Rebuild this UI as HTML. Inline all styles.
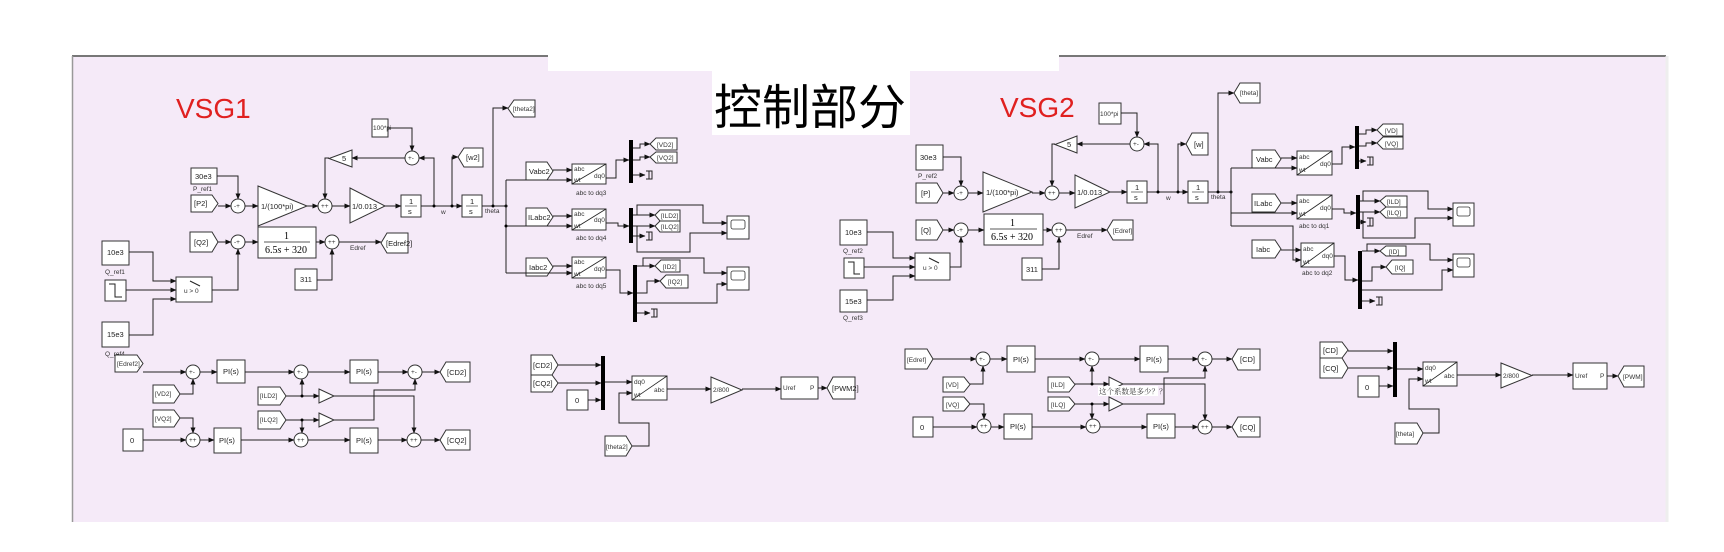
<!DOCTYPE html>
<html><head><meta charset="utf-8">
<style>
html,body{margin:0;padding:0;background:#fff;}
svg{display:block;}
text{font-family:"Liberation Sans","Noto Sans CJK SC",sans-serif;}
.b{fill:#fff;stroke:#333;stroke-width:1;}
.l{fill:none;stroke:#222;stroke-width:1;}
.t{font-size:7.5px;fill:#222;}
.s{font-size:6.5px;fill:#333;}
</style></head><body>
<svg width="1724" height="552" viewBox="0 0 1724 552" xmlns="http://www.w3.org/2000/svg">
<defs>
<marker id="a" markerWidth="6" markerHeight="6" refX="5.5" refY="3" orient="auto" markerUnits="userSpaceOnUse"><path d="M0,0.5L6,3L0,5.5z" fill="#111"/></marker>
</defs>
<rect x="0" y="0" width="1724" height="552" fill="#fff"/>
<rect x="72" y="56" width="1594" height="466" fill="#f5eaf8"/>
<line x1="72" y1="56" x2="1666" y2="56" stroke="#777" stroke-width="2"/>
<line x1="72.5" y1="56" x2="72.5" y2="522" stroke="#999" stroke-width="1.5"/>
<line x1="1667" y1="56" x2="1667" y2="522" stroke="#eee" stroke-width="3"/>
<rect x="548" y="0" width="511" height="71" fill="#fff"/>
<rect x="712" y="71" width="198" height="64" fill="#fff"/>
<text x="714" y="124" font-size="48" style="font-family:'Noto Sans CJK SC',sans-serif" fill="#000">控制部分</text>
<text x="176" y="118" font-size="28" fill="#e02020">VSG1</text>
<text x="1000" y="117" font-size="28" fill="#e02020">VSG2</text>

<!-- ============ VSG1 upper ============ -->
<g>
<rect class="b" x="191" y="168" width="26" height="16"/><text class="t" x="195" y="179">30e3</text>
<text class="s" x="193" y="191">P_ref1</text>
<polygon class="b" points="191,195 212,195 218,203.5 212,212 191,212"/><text class="t" x="194" y="206">[P2]</text>
<circle class="b" cx="238" cy="206" r="7"/><text class="s" x="234" y="208">-+</text>
<polygon class="b" points="258,186 307,206 258,226"/><text class="t" x="261" y="209">1/(100*pi)</text>
<circle class="b" cx="325" cy="206" r="7"/><text class="s" x="321" y="208">++</text>
<polygon class="b" points="350,188 385,206 350,223"/><text class="t" x="352" y="209">1/0.013</text>
<rect class="b" x="401" y="195" width="20" height="22"/><text class="t" x="409" y="204">1</text><line x1="405" y1="206" x2="417" y2="206" stroke="#222" stroke-width=".6"/><text class="t" x="408" y="214">s</text>
<rect class="b" x="462" y="195" width="20" height="22"/><text class="t" x="470" y="204">1</text><line x1="466" y1="206" x2="478" y2="206" stroke="#222" stroke-width=".6"/><text class="t" x="469" y="214">s</text>
<text class="s" x="441" y="214">w</text><text class="s" x="485" y="213">theta</text>
<rect class="b" x="372" y="119" width="16" height="18"/><text class="s" x="373" y="130">100*pi</text>
<circle class="b" cx="412" cy="158" r="7"/><text class="s" x="408" y="160">+-</text>
<polygon class="b" points="352,150 329,158.5 352,167"/><text class="t" x="342" y="161">5</text>
<polygon class="b" points="458,157 464,148 483,148 483,167 464,167"/><text class="t" x="466" y="160">[w2]</text>
<polygon class="b" points="508,108.5 514,100 535,100 535,117 514,117"/><text class="s" x="513" y="111">[theta2]</text>
<polyline class="l" marker-end="url(#a)" points="217,176 238,176 238,199"/>
<polyline class="l" marker-end="url(#a)" points="218,206 231,206"/>
<polyline class="l" marker-end="url(#a)" points="245,206 258,206"/>
<polyline class="l" marker-end="url(#a)" points="307,206 318,206"/>
<polyline class="l" marker-end="url(#a)" points="332,206 350,206"/>
<polyline class="l" marker-end="url(#a)" points="385,206 401,206"/>
<polyline class="l" marker-end="url(#a)" points="421,206 462,206"/>
<polyline class="l" marker-end="url(#a)" points="434,206 434,158 419,158"/>
<polyline class="l" marker-end="url(#a)" points="388,128 412,128 412,151"/>
<polyline class="l" marker-end="url(#a)" points="405,158 352,158"/>
<polyline class="l" marker-end="url(#a)" points="329,158 325,158 325,199"/>
<polyline class="l" marker-end="url(#a)" points="452,206 452,157 458,157"/>
<polyline class="l" points="482,206 506,206"/>
<polyline class="l" marker-end="url(#a)" points="493,206 493,108 508,108"/>
<circle cx="434" cy="206" r="1.5"/><circle cx="452" cy="206" r="1.5"/><circle cx="493" cy="206" r="1.5"/><circle cx="506" cy="206" r="1.5"/>

<polygon class="b" points="190,232 212,232 218,242 212,252 190,252"/><text class="t" x="194" y="245">[Q2]</text>
<circle class="b" cx="238" cy="242" r="7"/><text class="s" x="234" y="244">-+</text>
<rect class="b" x="258" y="227" width="58" height="31"/>
<text x="284" y="239" font-size="10" style="font-family:'Liberation Serif',serif">1</text>
<line x1="264" y1="242" x2="310" y2="242" stroke="#222" stroke-width=".8"/>
<text x="265" y="253" font-size="10" style="font-family:'Liberation Serif',serif">6.5<tspan font-style="italic">s</tspan> + 320</text>
<circle class="b" cx="332" cy="242" r="7"/><text class="s" x="328" y="244">++</text>
<text class="s" x="350" y="250">Edref</text>
<polygon class="b" points="381,243 387,233 408,233 408,253 387,253"/><text class="t" x="386" y="246">[Edref2]</text>
<rect class="b" x="295" y="269" width="22" height="21"/><text class="t" x="300" y="282">311</text>
<rect class="b" x="102" y="241" width="27" height="24"/><text class="t" x="107" y="255">10e3</text>
<text class="s" x="105" y="274">Q_ref1</text>
<rect class="b" x="105" y="280" width="21" height="21"/><polyline class="l" points="109,284 115,284 115,297 122,297"/>
<rect class="b" x="176" y="277" width="36" height="25"/><text class="s" x="184" y="293">u &gt; 0</text>
<polyline class="l" points="190,281 200,286"/>
<rect class="b" x="102" y="322" width="27" height="25"/><text class="t" x="107" y="337">15e3</text>
<text class="s" x="105" y="356">Q_ref4</text>
<polyline class="l" marker-end="url(#a)" points="218,242 231,242"/>
<polyline class="l" marker-end="url(#a)" points="245,242 258,242"/>
<polyline class="l" marker-end="url(#a)" points="316,242 325,242"/>
<polyline class="l" marker-end="url(#a)" points="339,242 381,242"/>
<polyline class="l" marker-end="url(#a)" points="317,280 332,280 332,249"/>
<polyline class="l" marker-end="url(#a)" points="212,290 238,290 238,249"/>
<polyline class="l" marker-end="url(#a)" points="129,252 153,252 153,281 176,281"/>
<polyline class="l" marker-end="url(#a)" points="126,290 176,290"/>
<polyline class="l" marker-end="url(#a)" points="129,335 153,335 153,299 176,299"/>

<!-- transforms VSG1 -->
<polygon class="b" points="526,162 547,162 553,171 547,180 526,180"/><text class="t" x="529" y="174">Vabc2</text>
<polygon class="b" points="526,208 547,208 553,217 547,226 526,226"/><text class="t" x="528" y="220">ILabc2</text>
<polygon class="b" points="526,258 547,258 553,267 547,276 526,276"/><text class="t" x="529" y="270">Iabc2</text>
<g>
<rect class="b" x="572" y="164" width="34" height="20"/><line x1="572" y1="184" x2="606" y2="164" stroke="#222" stroke-width=".8"/>
<text class="s" x="574" y="171">abc</text><text class="s" x="574" y="182">wt</text><text class="s" x="594" y="178">dq0</text><text class="s" x="576" y="195">abc to dq3</text>
<rect class="b" x="572" y="209" width="34" height="21"/><line x1="572" y1="230" x2="606" y2="209" stroke="#222" stroke-width=".8"/>
<text class="s" x="574" y="216">abc</text><text class="s" x="574" y="228">wt</text><text class="s" x="594" y="222">dq0</text><text class="s" x="576" y="240">abc to dq4</text>
<rect class="b" x="572" y="257" width="34" height="21"/><line x1="572" y1="278" x2="606" y2="257" stroke="#222" stroke-width=".8"/>
<text class="s" x="574" y="264">abc</text><text class="s" x="574" y="276">wt</text><text class="s" x="594" y="271">dq0</text><text class="s" x="576" y="288">abc to dq5</text>
</g>
<polyline class="l" marker-end="url(#a)" points="553,170 572,170"/>
<polyline class="l" marker-end="url(#a)" points="553,216 572,216"/>
<polyline class="l" marker-end="url(#a)" points="553,266 572,266"/>
<polyline class="l" points="506,180 506,273"/>
<polyline class="l" marker-end="url(#a)" points="506,180 572,180"/>
<polyline class="l" marker-end="url(#a)" points="506,226 572,226"/>
<polyline class="l" marker-end="url(#a)" points="506,273 572,273"/>
<circle cx="506" cy="226" r="1.5"/>
<rect x="629" y="140" width="4" height="43" fill="#000"/>
<rect x="629" y="208" width="4" height="35" fill="#000"/>
<rect x="633" y="265" width="4" height="57" fill="#000"/>
<polyline class="l" marker-end="url(#a)" points="606,178 616,178 616,160 629,160"/>
<polyline class="l" marker-end="url(#a)" points="606,223 618,223 618,226 629,226"/>
<polyline class="l" marker-end="url(#a)" points="606,270 620,270 620,293 633,293"/>
<polygon class="b" points="650,144 656,138 677,138 677,150 656,150"/><text class="s" x="657" y="147">[VD2]</text>
<polygon class="b" points="650,157 656,152 677,152 677,163 656,163"/><text class="s" x="657" y="160">[VQ2]</text>
<polyline class="l" marker-end="url(#a)" points="633,148 640,148 640,144 650,144"/>
<polyline class="l" marker-end="url(#a)" points="633,160 640,160 640,157 650,157"/>
<polyline class="l" marker-end="url(#a)" points="633,175 645,175"/><path class="l" d="M646,171h6v8h-6M649,171v8"/>
<polygon class="b" points="655,215 660,210 680,210 680,221 660,221"/><text class="s" x="661" y="218">[ILD2]</text>
<polygon class="b" points="655,226 660,221 680,221 680,232 660,232"/><text class="s" x="661" y="229">[ILQ2]</text>
<polyline class="l" marker-end="url(#a)" points="633,215 655,215"/>
<polyline class="l" marker-end="url(#a)" points="633,226 655,226"/>
<polyline class="l" marker-end="url(#a)" points="633,236 645,236"/><path class="l" d="M646,232h6v8h-6M649,232v8"/>
<polyline class="l" marker-end="url(#a)" points="637,215 637,205 703,205 703,223 727,223"/>
<polyline class="l" marker-end="url(#a)" points="637,226 637,252 690,252 690,233 727,233"/>
<rect class="b" x="727" y="216" width="22" height="23"/><rect x="731" y="220" width="14" height="9" rx="2" fill="#fff" stroke="#333" stroke-width=".8"/>
<polygon class="b" points="655,266 661,260 680,260 680,272 661,272"/><text class="s" x="663" y="269">[ID2]</text>
<polygon class="b" points="660,281 666,275 688,275 688,288 666,288"/><text class="s" x="668" y="284">[IQ2]</text>
<polyline class="l" marker-end="url(#a)" points="637,266 655,266"/>
<polyline class="l" marker-end="url(#a)" points="643,266 643,258 704,258 704,273 727,273"/>
<polyline class="l" marker-end="url(#a)" points="637,293 647,293 647,281 660,281"/>
<polyline class="l" marker-end="url(#a)" points="637,303 717,303 717,284 727,284"/>
<polyline class="l" marker-end="url(#a)" points="637,313 650,313"/><path class="l" d="M651,309h6v8h-6M654,309v8"/>
<rect class="b" x="727" y="267" width="22" height="23"/><rect x="731" y="271" width="14" height="9" rx="2" fill="#fff" stroke="#333" stroke-width=".8"/>
</g>

<!-- ============ VSG1 lower ============ -->
<g>
<polygon class="b" points="115,355 137,355 143,363.5 137,372 115,372"/><text class="s" x="117" y="366">[Edref2]</text>
<circle class="b" cx="193" cy="372" r="7"/><text class="s" x="189" y="374">+-</text>
<rect class="b" x="217" y="360" width="28" height="23"/><text class="t" x="223" y="374">PI(s)</text>
<circle class="b" cx="301" cy="372" r="7"/><text class="s" x="297" y="374">+-</text>
<rect class="b" x="350" y="360" width="28" height="23"/><text class="t" x="356" y="374">PI(s)</text>
<circle class="b" cx="415" cy="372" r="7"/><text class="s" x="411" y="374">+-</text>
<polygon class="b" points="440,372 446,362 470,362 470,382 446,382"/><text class="t" x="447" y="375">[CD2]</text>
<polygon class="b" points="153,385 174,385 180,394 174,403 153,403"/><text class="s" x="155" y="396">[VD2]</text>
<polygon class="b" points="258,387 280,387 286,396 280,405 258,405"/><text class="s" x="260" y="398">[ILD2]</text>
<polygon class="b" points="319,389 334,396 319,403"/>
<polygon class="b" points="153,410 174,410 180,418 174,427 153,427"/><text class="s" x="155" y="421">[VQ2]</text>
<polygon class="b" points="258,411 280,411 286,420 280,429 258,429"/><text class="s" x="260" y="422">[ILQ2]</text>
<polygon class="b" points="319,413 334,420 319,427"/>
<rect class="b" x="123" y="429" width="20" height="22"/><text class="t" x="130" y="443">0</text>
<circle class="b" cx="193" cy="440" r="7"/><text class="s" x="189" y="442">++</text>
<rect class="b" x="214" y="428" width="27" height="25"/><text class="t" x="219" y="443">PI(s)</text>
<circle class="b" cx="301" cy="440" r="7"/><text class="s" x="297" y="442">++</text>
<rect class="b" x="350" y="428" width="28" height="25"/><text class="t" x="356" y="443">PI(s)</text>
<circle class="b" cx="414" cy="440" r="7"/><text class="s" x="410" y="442">++</text>
<polygon class="b" points="440,440 446,430 470,430 470,450 446,450"/><text class="t" x="447" y="443">[CQ2]</text>
<polyline class="l" marker-end="url(#a)" points="143,372 186,372"/>
<polyline class="l" marker-end="url(#a)" points="200,372 217,372"/>
<polyline class="l" marker-end="url(#a)" points="245,372 294,372"/>
<polyline class="l" marker-end="url(#a)" points="308,372 350,372"/>
<polyline class="l" marker-end="url(#a)" points="378,372 408,372"/>
<polyline class="l" marker-end="url(#a)" points="422,372 440,372"/>
<polyline class="l" marker-end="url(#a)" points="180,394 193,394 193,379"/>
<polyline class="l" marker-end="url(#a)" points="286,396 319,396"/>
<polyline class="l" marker-end="url(#a)" points="302,396 302,379"/>
<polyline class="l" marker-end="url(#a)" points="180,418 193,418 193,433"/>
<polyline class="l" marker-end="url(#a)" points="286,420 319,420"/>
<polyline class="l" marker-end="url(#a)" points="302,420 302,433"/>
<circle cx="302" cy="396" r="1.5"/><circle cx="302" cy="420" r="1.5"/>
<polyline class="l" marker-end="url(#a)" points="334,396 414,396 414,433"/>
<polyline class="l" marker-end="url(#a)" points="334,420 374,420 374,390 415,390 415,379"/>
<polyline class="l" marker-end="url(#a)" points="143,440 186,440"/>
<polyline class="l" marker-end="url(#a)" points="200,440 214,440"/>
<polyline class="l" marker-end="url(#a)" points="241,440 294,440"/>
<polyline class="l" marker-end="url(#a)" points="308,440 350,440"/>
<polyline class="l" marker-end="url(#a)" points="378,440 407,440"/>
<polyline class="l" marker-end="url(#a)" points="421,440 440,440"/>
<!-- modulation -->
<polygon class="b" points="531,355 552,355 558,365 552,375 531,375"/><text class="t" x="533" y="368">[CD2]</text>
<polygon class="b" points="531,375 552,375 558,383 552,392 531,392"/><text class="t" x="533" y="386">[CQ2]</text>
<rect class="b" x="567" y="390" width="21" height="20"/><text class="t" x="575" y="403">0</text>
<rect x="601" y="356" width="4" height="54" fill="#000"/>
<rect class="b" x="632" y="376" width="35" height="24"/><line x1="632" y1="400" x2="667" y2="376" stroke="#222" stroke-width=".8"/>
<text class="s" x="634" y="384">dq0</text><text class="s" x="634" y="397">wt</text><text class="s" x="654" y="392">abc</text>
<polygon class="b" points="711,377 742,390 711,403"/><text class="s" x="713" y="392">2/800</text>
<rect class="b" x="781" y="377" width="37" height="22"/><text class="s" x="783" y="390">Uref</text><text class="s" x="810" y="390">P</text>
<polygon class="b" points="827,388 833,377 855,377 855,399 833,399"/><text class="t" x="832" y="391">[PWM2]</text>
<polygon class="b" points="605,436 626,436 632,446 626,456 605,456"/><text class="s" x="606" y="449">[theta2]</text>
<polyline class="l" marker-end="url(#a)" points="558,365 601,365"/>
<polyline class="l" marker-end="url(#a)" points="558,383 601,383"/>
<polyline class="l" marker-end="url(#a)" points="588,400 601,400"/>
<polyline class="l" marker-end="url(#a)" points="605,382 632,382"/>
<polyline class="l" marker-end="url(#a)" points="632,446 649,446 649,423 619,423 619,393 632,393"/>
<polyline class="l" marker-end="url(#a)" points="667,389 711,389"/>
<polyline class="l" marker-end="url(#a)" points="742,389 781,389"/>
<polyline class="l" marker-end="url(#a)" points="818,388 827,388"/>
</g>

<!-- ============ VSG2 upper ============ -->
<g>
<rect class="b" x="916" y="145" width="27" height="25"/><text class="t" x="920" y="160">30e3</text>
<text class="s" x="918" y="178">P_ref2</text>
<polygon class="b" points="916,183 937,183 943,193 937,203 916,203"/><text class="t" x="921" y="196">[P]</text>
<circle class="b" cx="961" cy="193" r="7"/><text class="s" x="957" y="195">-+</text>
<polygon class="b" points="983,172 1032,192 983,212"/><text class="t" x="986" y="195">1/(100*pi)</text>
<circle class="b" cx="1052" cy="193" r="7"/><text class="s" x="1048" y="195">++</text>
<polygon class="b" points="1075,175 1110,192 1075,208"/><text class="t" x="1077" y="195">1/0.013</text>
<rect class="b" x="1127" y="181" width="20" height="22"/><text class="t" x="1135" y="190">1</text><line x1="1131" y1="192" x2="1143" y2="192" stroke="#222" stroke-width=".6"/><text class="t" x="1134" y="200">s</text>
<rect class="b" x="1188" y="181" width="20" height="22"/><text class="t" x="1196" y="190">1</text><line x1="1192" y1="192" x2="1204" y2="192" stroke="#222" stroke-width=".6"/><text class="t" x="1195" y="200">s</text>
<text class="s" x="1166" y="200">w</text><text class="s" x="1211" y="199">theta</text>
<rect class="b" x="1099" y="103" width="22" height="21"/><text class="s" x="1100" y="116">100*pi</text>
<circle class="b" cx="1137" cy="144" r="7"/><text class="s" x="1133" y="146">+-</text>
<polygon class="b" points="1077,136 1055,144.5 1077,153"/><text class="t" x="1067" y="147">5</text>
<polygon class="b" points="1186,144 1192,133 1208,133 1208,155 1192,155"/><text class="t" x="1194" y="147">[w]</text>
<polygon class="b" points="1234,93 1240,83 1260,83 1260,103 1240,103"/><text class="s" x="1240" y="95">[theta]</text>
<polyline class="l" marker-end="url(#a)" points="943,157 961,157 961,186"/>
<polyline class="l" marker-end="url(#a)" points="943,193 954,193"/>
<polyline class="l" marker-end="url(#a)" points="968,193 983,193"/>
<polyline class="l" marker-end="url(#a)" points="1032,193 1045,193"/>
<polyline class="l" marker-end="url(#a)" points="1059,193 1075,193"/>
<polyline class="l" marker-end="url(#a)" points="1110,192 1127,192"/>
<polyline class="l" marker-end="url(#a)" points="1147,192 1188,192"/>
<polyline class="l" marker-end="url(#a)" points="1158,192 1158,144 1144,144"/>
<polyline class="l" marker-end="url(#a)" points="1121,113 1137,113 1137,137"/>
<polyline class="l" marker-end="url(#a)" points="1130,144 1077,144"/>
<polyline class="l" marker-end="url(#a)" points="1055,144 1052,144 1052,186"/>
<polyline class="l" marker-end="url(#a)" points="1178,192 1178,144 1186,144"/>
<polyline class="l" points="1208,192 1231,192"/>
<polyline class="l" marker-end="url(#a)" points="1218,192 1218,93 1234,93"/>
<circle cx="1158" cy="192" r="1.5"/><circle cx="1178" cy="192" r="1.5"/><circle cx="1218" cy="192" r="1.5"/><circle cx="1231" cy="192" r="1.5"/>

<polygon class="b" points="916,220 937,220 943,230 937,240 916,240"/><text class="t" x="921" y="233">[Q]</text>
<circle class="b" cx="961" cy="230" r="7"/><text class="s" x="957" y="232">-+</text>
<rect class="b" x="984" y="214" width="59" height="31"/>
<text x="1010" y="226" font-size="10" style="font-family:'Liberation Serif',serif">1</text>
<line x1="990" y1="229" x2="1037" y2="229" stroke="#222" stroke-width=".8"/>
<text x="991" y="240" font-size="10" style="font-family:'Liberation Serif',serif">6.5<tspan font-style="italic">s</tspan> + 320</text>
<circle class="b" cx="1059" cy="230" r="7"/><text class="s" x="1055" y="232">++</text>
<text class="s" x="1077" y="238">Edref</text>
<polygon class="b" points="1107,230 1113,220 1133,220 1133,240 1113,240"/><text class="s" x="1113" y="233">[Edref]</text>
<rect class="b" x="1022" y="258" width="20" height="22"/><text class="t" x="1026" y="272">311</text>
<rect class="b" x="840" y="220" width="27" height="25"/><text class="t" x="845" y="235">10e3</text>
<text class="s" x="843" y="253">Q_ref2</text>
<rect class="b" x="844" y="258" width="20" height="20"/><polyline class="l" points="848,262 854,262 854,274 860,274"/>
<rect class="b" x="915" y="253" width="35" height="27"/><text class="s" x="923" y="270">u &gt; 0</text>
<polyline class="l" points="929,258 939,263"/>
<rect class="b" x="840" y="290" width="27" height="22"/><text class="t" x="845" y="304">15e3</text>
<text class="s" x="843" y="320">Q_ref3</text>
<polyline class="l" marker-end="url(#a)" points="943,230 954,230"/>
<polyline class="l" marker-end="url(#a)" points="968,230 984,230"/>
<polyline class="l" marker-end="url(#a)" points="1043,230 1052,230"/>
<polyline class="l" marker-end="url(#a)" points="1066,230 1107,230"/>
<polyline class="l" marker-end="url(#a)" points="1042,269 1059,269 1059,237"/>
<polyline class="l" marker-end="url(#a)" points="950,267 961,267 961,237"/>
<polyline class="l" marker-end="url(#a)" points="867,232 893,232 893,258 915,258"/>
<polyline class="l" marker-end="url(#a)" points="864,267 915,267"/>
<polyline class="l" marker-end="url(#a)" points="867,300 893,300 893,276 915,276"/>

<polygon class="b" points="1252,150 1275,150 1281,159 1275,168 1252,168"/><text class="t" x="1256" y="162">Vabc</text>
<polygon class="b" points="1252,194 1275,194 1281,203 1275,212 1252,212"/><text class="t" x="1254" y="206">ILabc</text>
<polygon class="b" points="1252,240 1275,240 1281,249 1275,258 1252,258"/><text class="t" x="1256" y="252">Iabc</text>
<rect class="b" x="1297" y="151" width="35" height="24"/><line x1="1297" y1="175" x2="1332" y2="151" stroke="#222" stroke-width=".8"/>
<text class="s" x="1299" y="159">abc</text><text class="s" x="1299" y="172">wt</text><text class="s" x="1320" y="166">dq0</text>
<rect class="b" x="1297" y="195" width="35" height="24"/><line x1="1297" y1="219" x2="1332" y2="195" stroke="#222" stroke-width=".8"/>
<text class="s" x="1299" y="203">abc</text><text class="s" x="1299" y="216">wt</text><text class="s" x="1320" y="210">dq0</text><text class="s" x="1299" y="228">abc to dq1</text>
<rect class="b" x="1301" y="243" width="33" height="24"/><line x1="1301" y1="267" x2="1334" y2="243" stroke="#222" stroke-width=".8"/>
<text class="s" x="1303" y="251">abc</text><text class="s" x="1303" y="264">wt</text><text class="s" x="1322" y="258">dq0</text><text class="s" x="1302" y="275">abc to dq2</text>
<polyline class="l" marker-end="url(#a)" points="1281,158 1297,158"/>
<polyline class="l" marker-end="url(#a)" points="1281,203 1297,203"/>
<polyline class="l" marker-end="url(#a)" points="1281,250 1301,250"/>
<polyline class="l" points="1231,168 1231,226"/>
<polyline class="l" marker-end="url(#a)" points="1231,168 1297,168"/>
<polyline class="l" marker-end="url(#a)" points="1231,213 1297,213"/>
<polyline class="l" marker-end="url(#a)" points="1231,226 1293,226 1293,260 1301,260"/>
<rect x="1355" y="126" width="4" height="43" fill="#000"/>
<rect x="1356" y="195" width="4" height="34" fill="#000"/>
<rect x="1358" y="251" width="4" height="58" fill="#000"/>
<polyline class="l" marker-end="url(#a)" points="1332,164 1342,164 1342,147 1355,147"/>
<polyline class="l" marker-end="url(#a)" points="1332,209 1344,209 1344,213 1356,213"/>
<polyline class="l" marker-end="url(#a)" points="1334,256 1345,256 1345,280 1358,280"/>
<polygon class="b" points="1377,130 1383,124 1403,124 1403,136 1383,136"/><text class="s" x="1385" y="133">[VD]</text>
<polygon class="b" points="1377,143 1383,137 1403,137 1403,149 1383,149"/><text class="s" x="1385" y="146">[VQ]</text>
<polyline class="l" marker-end="url(#a)" points="1359,134 1366,134 1366,130 1377,130"/>
<polyline class="l" marker-end="url(#a)" points="1359,146 1366,146 1366,143 1377,143"/>
<polyline class="l" marker-end="url(#a)" points="1359,161 1366,161"/><path class="l" d="M1367,157h6v8h-6M1370,157v8"/>
<polygon class="b" points="1380,201 1386,196 1407,196 1407,207 1386,207"/><text class="s" x="1387" y="204">[ILD]</text>
<polygon class="b" points="1380,212 1386,207 1407,207 1407,218 1386,218"/><text class="s" x="1387" y="215">[ILQ]</text>
<polyline class="l" marker-end="url(#a)" points="1360,201 1380,201"/>
<polyline class="l" marker-end="url(#a)" points="1360,212 1380,212"/>
<polyline class="l" marker-end="url(#a)" points="1360,222 1366,222"/><path class="l" d="M1367,218h6v8h-6M1370,218v8"/>
<polyline class="l" marker-end="url(#a)" points="1363,201 1363,191 1428,191 1428,209 1453,209"/>
<polyline class="l" marker-end="url(#a)" points="1363,212 1363,238 1415,238 1415,218 1453,218"/>
<rect class="b" x="1453" y="203" width="21" height="23"/><rect x="1457" y="207" width="13" height="9" rx="2" fill="#fff" stroke="#333" stroke-width=".8"/>
<polygon class="b" points="1380,251 1386,246 1406,246 1406,256 1386,256"/><text class="s" x="1389" y="254">[ID]</text>
<polygon class="b" points="1386,267 1392,260 1413,260 1413,274 1392,274"/><text class="s" x="1395" y="270">[IQ]</text>
<polyline class="l" marker-end="url(#a)" points="1362,251 1380,251"/>
<polyline class="l" marker-end="url(#a)" points="1367,251 1367,244 1430,244 1430,260 1453,260"/>
<polyline class="l" marker-end="url(#a)" points="1362,281 1372,281 1372,267 1386,267"/>
<polyline class="l" marker-end="url(#a)" points="1362,290 1442,290 1442,270 1453,270"/>
<polyline class="l" marker-end="url(#a)" points="1362,301 1375,301"/><path class="l" d="M1376,297h6v8h-6M1379,297v8"/>
<rect class="b" x="1453" y="254" width="21" height="23"/><rect x="1457" y="258" width="13" height="9" rx="2" fill="#fff" stroke="#333" stroke-width=".8"/>
</g>

<!-- ============ VSG2 lower ============ -->
<g>
<polygon class="b" points="905,349 927,349 933,359 927,369 905,369"/><text class="s" x="907" y="362">[Edref]</text>
<circle class="b" cx="983" cy="359" r="7"/><text class="s" x="979" y="361">+-</text>
<rect class="b" x="1007" y="346" width="28" height="26"/><text class="t" x="1013" y="362">PI(s)</text>
<circle class="b" cx="1092" cy="359" r="7"/><text class="s" x="1088" y="361">+-</text>
<rect class="b" x="1140" y="346" width="28" height="26"/><text class="t" x="1146" y="362">PI(s)</text>
<circle class="b" cx="1205" cy="359" r="7"/><text class="s" x="1201" y="361">+-</text>
<polygon class="b" points="1232,359 1238,349 1260,349 1260,370 1238,370"/><text class="t" x="1240" y="362">[CD]</text>
<polygon class="b" points="943,377 964,377 970,384.5 964,392 943,392"/><text class="s" x="946" y="387">[VD]</text>
<polygon class="b" points="1048,377 1069,377 1075,384.5 1069,392 1048,392"/><text class="s" x="1051" y="387">[ILD]</text>
<polygon class="b" points="1109,377 1123,384 1109,391"/>
<polygon class="b" points="943,397 964,397 970,404 964,411 943,411"/><text class="s" x="946" y="407">[VQ]</text>
<polygon class="b" points="1048,397 1069,397 1075,404 1069,411 1048,411"/><text class="s" x="1051" y="407">[ILQ]</text>
<polygon class="b" points="1109,397 1123,404 1109,411"/>
<rect x="1098" y="386" width="60" height="10" fill="#fff"/>
<text x="1099" y="394" font-size="7.5" fill="#333" style="font-family:'Noto Serif CJK SC',serif">这个系数是多少？？</text>
<rect class="b" x="913" y="417" width="20" height="20"/><text class="t" x="920" y="430">0</text>
<circle class="b" cx="984" cy="426" r="7"/><text class="s" x="980" y="428">++</text>
<rect class="b" x="1004" y="414" width="28" height="25"/><text class="t" x="1010" y="429">PI(s)</text>
<circle class="b" cx="1093" cy="426" r="7"/><text class="s" x="1089" y="428">++</text>
<rect class="b" x="1147" y="414" width="28" height="24"/><text class="t" x="1153" y="429">PI(s)</text>
<circle class="b" cx="1205" cy="427" r="7"/><text class="s" x="1201" y="429">++</text>
<polygon class="b" points="1232,427 1238,417 1260,417 1260,437 1238,437"/><text class="t" x="1240" y="430">[CQ]</text>
<polyline class="l" marker-end="url(#a)" points="933,359 976,359"/>
<polyline class="l" marker-end="url(#a)" points="990,359 1007,359"/>
<polyline class="l" marker-end="url(#a)" points="1035,359 1085,359"/>
<polyline class="l" marker-end="url(#a)" points="1099,359 1140,359"/>
<polyline class="l" marker-end="url(#a)" points="1168,359 1198,359"/>
<polyline class="l" marker-end="url(#a)" points="1212,359 1232,359"/>
<polyline class="l" marker-end="url(#a)" points="970,384 983,384 983,366"/>
<polyline class="l" marker-end="url(#a)" points="1075,384 1109,384"/>
<polyline class="l" marker-end="url(#a)" points="1092,384 1092,366"/>
<polyline class="l" marker-end="url(#a)" points="970,404 984,404 984,419"/>
<polyline class="l" marker-end="url(#a)" points="1075,404 1109,404"/>
<polyline class="l" marker-end="url(#a)" points="1092,404 1092,419"/>
<circle cx="1092" cy="384" r="1.5"/><circle cx="1092" cy="404" r="1.5"/>
<polyline class="l" marker-end="url(#a)" points="1123,384 1205,384 1205,420"/>
<polyline class="l" marker-end="url(#a)" points="1123,404 1164,404 1164,378 1205,378 1205,366"/>
<polyline class="l" marker-end="url(#a)" points="933,427 977,427"/>
<polyline class="l" marker-end="url(#a)" points="991,427 1004,427"/>
<polyline class="l" marker-end="url(#a)" points="1032,427 1086,427"/>
<polyline class="l" marker-end="url(#a)" points="1100,427 1147,427"/>
<polyline class="l" marker-end="url(#a)" points="1175,427 1198,427"/>
<polyline class="l" marker-end="url(#a)" points="1212,427 1232,427"/>
<polygon class="b" points="1320,342 1342,342 1348,350 1342,358 1320,358"/><text class="t" x="1323" y="353">[CD]</text>
<polygon class="b" points="1320,358 1342,358 1348,368 1342,378 1320,378"/><text class="t" x="1323" y="371">[CQ]</text>
<rect class="b" x="1358" y="376" width="21" height="21"/><text class="t" x="1365" y="390">0</text>
<rect x="1393" y="342" width="4" height="55" fill="#000"/>
<rect class="b" x="1423" y="362" width="34" height="24"/><line x1="1423" y1="386" x2="1457" y2="362" stroke="#222" stroke-width=".8"/>
<text class="s" x="1425" y="370">dq0</text><text class="s" x="1425" y="383">wt</text><text class="s" x="1444" y="378">abc</text>
<polygon class="b" points="1501,363 1532,375.5 1501,388"/><text class="s" x="1503" y="378">2/800</text>
<rect class="b" x="1573" y="363" width="34" height="26"/><text class="s" x="1575" y="378">Uref</text><text class="s" x="1600" y="378">P</text>
<polygon class="b" points="1618,376 1624,366 1644,366 1644,387 1624,387"/><text class="s" x="1623" y="379">[PWM]</text>
<polygon class="b" points="1395,423 1417,423 1423,433 1417,444 1395,444"/><text class="s" x="1396" y="436">[theta]</text>
<polyline class="l" marker-end="url(#a)" points="1348,351 1393,351"/>
<polyline class="l" marker-end="url(#a)" points="1348,368 1393,368"/>
<polyline class="l" marker-end="url(#a)" points="1379,386 1393,386"/>
<polyline class="l" marker-end="url(#a)" points="1397,369 1423,369"/>
<polyline class="l" marker-end="url(#a)" points="1423,433 1439,433 1439,409 1409,409 1409,379 1423,379"/>
<polyline class="l" marker-end="url(#a)" points="1457,375 1501,375"/>
<polyline class="l" marker-end="url(#a)" points="1532,375 1573,375"/>
<polyline class="l" marker-end="url(#a)" points="1607,376 1618,376"/>
</g>
</svg>
</body></html>
